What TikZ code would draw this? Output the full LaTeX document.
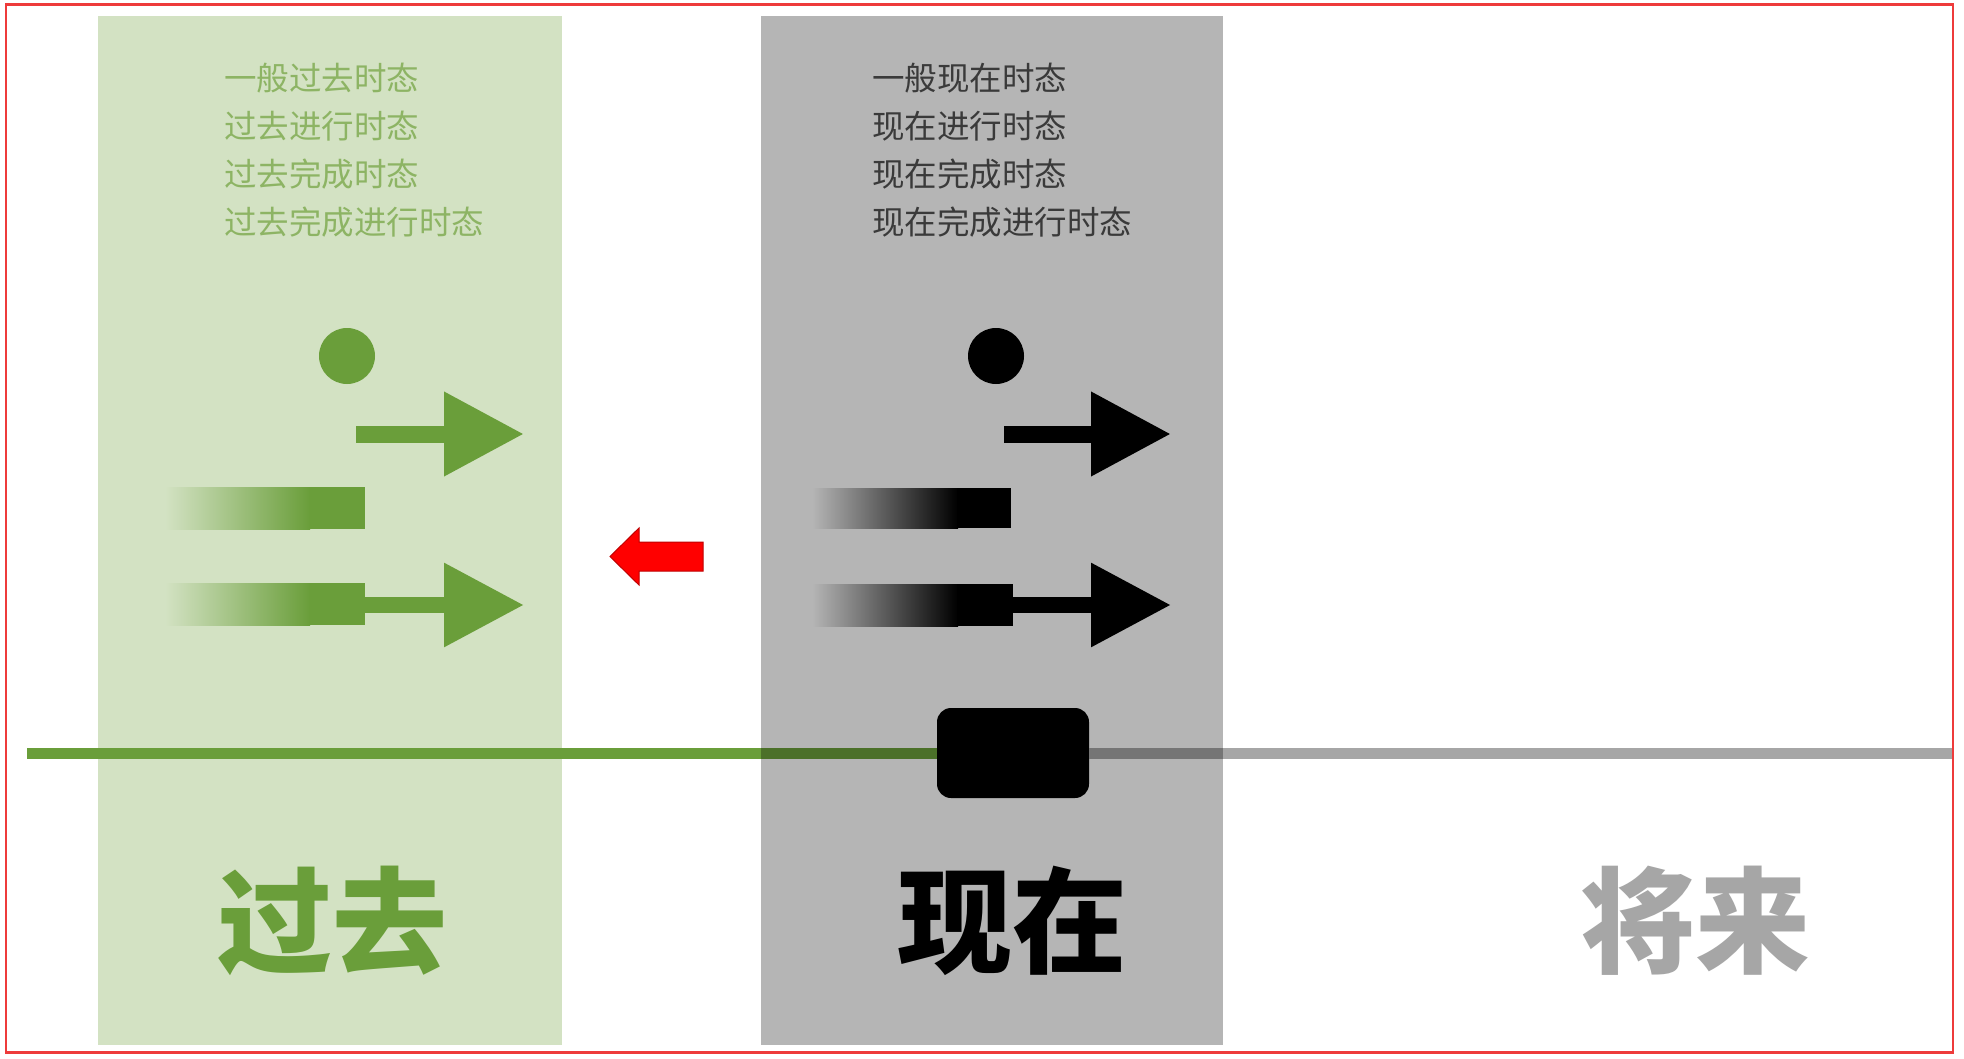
\documentclass[tikz,border=0pt]{standalone}
\usepackage{fontspec}
\newfontfamily\cjk{Noto Sans CJK SC}
\usetikzlibrary{arrows.meta}
\definecolor{pastgreen}{HTML}{6A9E3A}
\definecolor{pastpanel}{HTML}{D3E2C3}
\definecolor{pasttext}{HTML}{8DB464}
\definecolor{nowtext}{HTML}{3A3A3A}
\definecolor{nowpanel}{HTML}{B5B5B5}
\definecolor{futuregray}{HTML}{A6A6A6}
\definecolor{frame}{HTML}{EE3B3B}
\begin{document}
\begin{tikzpicture}
  [x=1pt,y=-1pt,every node/.style={inner sep=0pt,outer sep=0pt}]
  \tikzstyle{tense} = [anchor=base west,font=\cjk\fontsize{32.5}{40}\selectfont]
  \tikzstyle{era} = [anchor=base,font=\cjk\bfseries\fontsize{115}{120}\selectfont]
  \tikzstyle{dot} = [circle,minimum size=56pt]
  \tikzstyle{fat} = [line width=17pt,-{Triangle[length=80pt,width=80pt]}]
  \useasboundingbox (0,0) rectangle (1964,1059);
  \fill[white] (0,0) rectangle (1964,1059);
  % past panel
  \fill[pastpanel] (98,16) rectangle (562,1045);
  % time line
  \node[fill=black,rounded corners=14pt,minimum width=152pt,minimum height=90pt] (now) at (1013,753) {};
  \coordinate (tstart) at (27,753);
  \coordinate (tend) at (1952,753);
  \draw[pastgreen,line width=11pt] (tstart) -- (now);
  \draw[futuregray,line width=11pt] (now) -- (tend);
  % present panel
  \fill[black,fill opacity=0.29] (761,16) rectangle (1223,1045);
  % tenses
  \foreach \i/\txt in {0/一般过去时态,1/过去进行时态,2/过去完成时态,3/过去完成进行时态}
    \node[tense,text=pasttext] (past\i) at (224,91+47.7*\i) {\txt};
  \foreach \i/\txt in {0/一般现在时态,1/现在进行时态,2/现在完成时态,3/现在完成进行时态}
    \node[tense,text=nowtext] (now\i) at (872,91+47.7*\i) {\txt};
  % past symbols
  \node[dot,fill=pastgreen] (pdot) at (347,356) {};
  \coordinate (pa) at (356,434);
  \coordinate (pae) at (524,434);
  \draw[fat,pastgreen] (pa) -- (pae);
  \shade[left color=pastpanel,right color=pastgreen] (165,487) rectangle (310,529);
  \fill[pastgreen] (309,487) rectangle (365,529);
  \shade[left color=pastpanel,right color=pastgreen] (165,583) rectangle (310,625);
  \fill[pastgreen] (309,583) rectangle (365,625);
  \coordinate (pb) at (364,605);
  \coordinate (pbe) at (524,605);
  \draw[fat,pastgreen,line width=16pt] (pb) -- (pbe);
  % present symbols
  \node[dot,fill=black] (ndot) at (996,356) {};
  \coordinate (na) at (1004,434);
  \coordinate (nae) at (1171,434);
  \draw[fat,black] (na) -- (nae);
  \shade[left color=nowpanel,right color=black] (812,488) rectangle (958,528);
  \fill[black] (957,488) rectangle (1011,528);
  \shade[left color=nowpanel,right color=black] (812,584) rectangle (958,626);
  \fill[black] (957,584) rectangle (1013,626);
  \coordinate (nb) at (1012,605);
  \coordinate (nbe) at (1171,605);
  \draw[fat,black,line width=16pt] (nb) -- (nbe);
  % back arrow
  \filldraw[fill=red,draw=red!75!black,line width=1pt] (703,542) -- (639,542) -- (639,528)
    -- (610,556.5) -- (639,585) -- (639,571) -- (703,571) -- cycle;
  % eras
  \node[era,text=pastgreen] (past) at (332,964) {过去};
  \node[era,text=black] (present) at (1012,964) {现在};
  \node[era,text=futuregray] (future) at (1695,964) {将来};
  \draw[frame,line width=2.7pt] (6,4.5) rectangle (1953,1052.5);
\end{tikzpicture}
\end{document}
